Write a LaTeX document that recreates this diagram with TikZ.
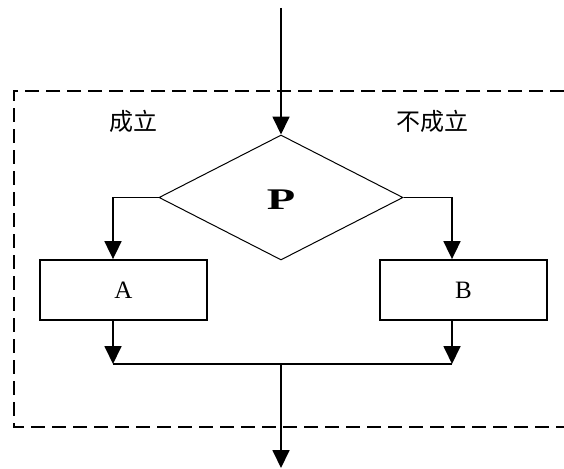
\documentclass[tikz,border=0pt]{standalone}
\usepackage{fontspec}
\setmainfont{Liberation Serif}
\newfontfamily\cjk{Noto Sans CJK SC}
\usetikzlibrary{shapes.geometric,arrows.meta}
\tikzset{
  line/.style={line width=1.8pt},
  arr/.style={line width=1.8pt,-{Triangle[length=18pt,width=17pt]}},
  procbox/.style={draw,line width=1.8pt,minimum width=167pt,minimum height=60pt,inner sep=0pt,font=\fontsize{25}{25}\selectfont},
  decision/.style={draw,diamond,line width=1pt,minimum width=244pt,minimum height=125pt,inner sep=0pt},
  lab/.style={inner sep=0pt,font=\cjk\fontsize{24}{24}\selectfont},
  frame/.style={dashed,line width=1.4pt,dash pattern=on 14pt off 7pt}
}
\begin{document}
\begin{tikzpicture}[x=1pt,y=-1pt]
\useasboundingbox (0,0) rectangle (564,468);
\fill[white] (0,0) rectangle (564,468);
% dashed frame (open at right edge)
\draw[frame] (564,91) -- (14,91) -- (14,427) -- (564,427);
% nodes
\node[decision] (P) at (281,197.5) {};
\node[inner sep=0pt] (Plabel) at (281,199.5) {\scalebox{1.55}[1]{\fontsize{30}{30}\selectfont\bfseries P}};
\node[procbox] (A) at (123.5,290) {A};
\node[procbox] (B) at (463.5,290) {B};
\node[lab] (yes) at (133,121) {成立};
\node[lab] (no) at (432,121) {不成立};
\coordinate (start) at (281,8);
\coordinate (jl) at (113,364);
\coordinate (jr) at (452,364);
\coordinate (jm) at (281,364);
\coordinate (end) at (281,468);
% connectors
\draw[arr] (start) -- (P.north);
\draw[arr] (P.west) -| (A.north -| jl);
\draw[arr] (P.east) -| (B.north -| jr);
\draw[arr] (A.south -| jl) -- (jl);
\draw[arr] (B.south -| jr) -- (jr);
\draw[line] (jl) -- (jr);
\draw[arr] (jm) -- (end);
\end{tikzpicture}
\end{document}
